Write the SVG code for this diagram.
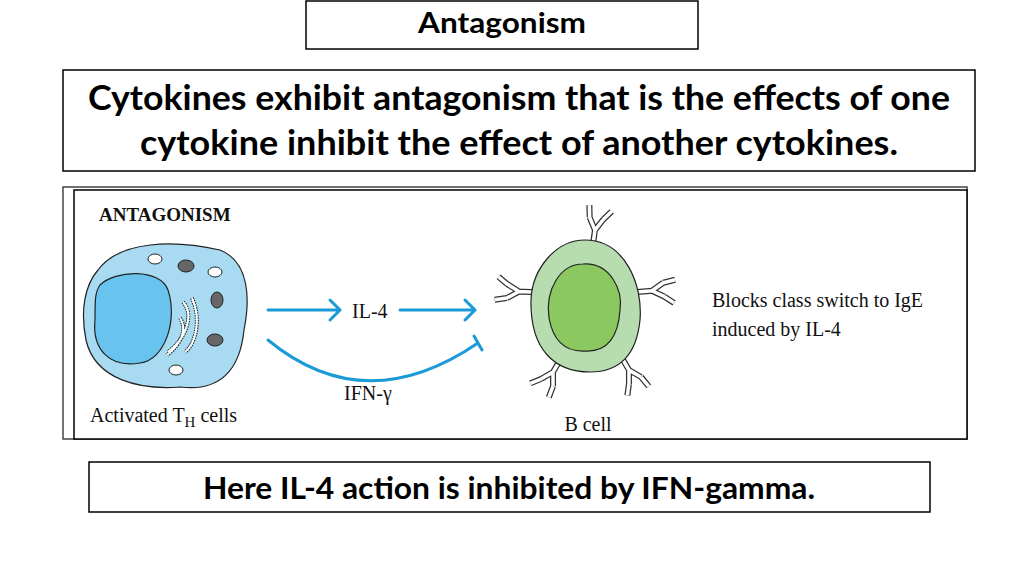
<svg xmlns="http://www.w3.org/2000/svg" width="1024" height="576" viewBox="0 0 1024 576">
<style>
.box{fill:#fff;stroke:#000;stroke-width:1.5}
.h{font-family:Lato,"Liberation Sans",sans-serif;font-weight:bold;fill:#000}
.s{font-family:"Liberation Serif",serif;fill:#111}
.blue{fill:none;stroke:#1a9ad6;stroke-width:3;stroke-linecap:round}
.ab1{fill:none;stroke:#333;stroke-width:6}
.ab2{fill:none;stroke:#fff;stroke-width:3.5}
</style>
<defs>
<g id="ab">
<path class="ab1" d="M0,4 L0,-14 L-7,-26 M0,-14 L7,-26 M-7,-26 l-2,-12 M7,-26 l7,-9"/>
<path class="ab2" d="M0,4 L0,-14 L-7,-26 M0,-14 L7,-26 M-7,-26 l-2,-12 M7,-26 l7,-9"/>
</g>
</defs>
<g id="title"><rect class="box" x="306" y="1" width="392" height="48"/><text class="h" x="418" y="33" font-size="28" textLength="168" lengthAdjust="spacingAndGlyphs">Antagonism</text></g>
<g id="def"><rect class="box" x="63" y="70" width="912" height="101"/>
<text class="h" x="88" y="110" font-size="34" textLength="862" lengthAdjust="spacingAndGlyphs">Cytokines exhibit antagonism that is the effects of one</text>
<text class="h" x="140" y="155" font-size="34" textLength="758" lengthAdjust="spacingAndGlyphs">cytokine inhibit the effect of another cytokines.</text></g>
<g id="figure"><rect x="63" y="187" width="904" height="252" fill="#fff" stroke="#444" stroke-width="1.5"/>
<rect x="74" y="190" width="893" height="249" fill="#fff" stroke="#000" stroke-width="1.5"/>
<text class="s" x="99" y="221" font-size="19" font-weight="bold">ANTAGONISM</text></g>
<g id="tcell">
<path d="M98,270 C120,240 175,240 220,250 C250,262 250,300 244,330 C240,370 220,392 180,387 C140,390 95,380 86,340 C80,310 85,285 98,270Z" fill="#a8dbf2" stroke="#222" stroke-width="1.2"/>
<path d="M100,285 C115,270 160,268 168,290 C178,320 165,360 140,363 C110,368 92,350 95,320 C95,300 95,292 100,285Z" fill="#68c4ee" stroke="#222" stroke-width="1.2"/>
<ellipse cx="155" cy="259" rx="7" ry="5" fill="#fff" stroke="#222"/>
<ellipse cx="215" cy="272" rx="7" ry="5" fill="#fff" stroke="#222"/>
<ellipse cx="176" cy="370" rx="7" ry="5" fill="#fff" stroke="#222"/>
<ellipse cx="186" cy="266" rx="8" ry="6" fill="#666" stroke="#222"/>
<ellipse cx="217" cy="300" rx="6" ry="8" fill="#666" stroke="#222"/>
<ellipse cx="215" cy="340" rx="8" ry="6" fill="#666" stroke="#222"/>
<path d="M183,302 C195,315 185,340 168,352 M192,298 C202,320 195,345 185,352 M180,318 C188,330 180,345 167,355" fill="none" stroke="#222" stroke-width="4" stroke-dasharray="1.5 1"/>
<path d="M183,302 C195,315 185,340 168,352 M192,298 C202,320 195,345 185,352 M180,318 C188,330 180,345 167,355" fill="none" stroke="#fff" stroke-width="2"/>
<text class="s" x="90" y="422" font-size="20">Activated T<tspan font-size="15" dy="5">H</tspan><tspan dy="-5"> cells</tspan></text>
</g>
<g id="connectors">
<path class="blue" d="M268,310 H340 M330,300 L340,310 L330,320"/>
<path class="blue" d="M400,310 H475 M465,300 L475,310 L465,320"/>
<path class="blue" d="M268,340 Q365,420 478,343 M474,336 L482,350"/>
<text class="s" x="352" y="318" font-size="20">IL-4</text>
<text class="s" x="344" y="400" font-size="20">IFN-γ</text>
</g>
<g id="bcell">
<use href="#ab" transform="translate(593,244) rotate(8)"/>
<use href="#ab" transform="translate(533,292) rotate(-88)"/>
<use href="#ab" transform="translate(638,292) rotate(85)"/>
<use href="#ab" transform="translate(560,360) rotate(-150)"/>
<use href="#ab" transform="translate(622,358) rotate(150)"/>
<path d="M585,240 C625,240 643,285 640,320 C636,360 615,372 590,372 C555,372 530,350 531,300 C532,270 555,240 585,240Z" fill="#b7dcb0" stroke="#222" stroke-width="1.2"/>
<path d="M583,264 C610,262 623,290 620,310 C618,340 605,352 585,351 C565,352 553,340 549,318 C545,290 560,264 583,264Z" fill="#8bc860" stroke="#222" stroke-width="1.2"/>
<text class="s" x="588" y="431" font-size="20" text-anchor="middle">B cell</text>
</g>
<g id="note"><text class="s" x="712" y="307" font-size="20">Blocks class switch to IgE</text><text class="s" x="712" y="336" font-size="20">induced by IL-4</text></g>
<g id="footer"><rect class="box" x="89" y="462" width="841" height="50"/><text class="h" x="203" y="499" font-size="30" textLength="612" lengthAdjust="spacingAndGlyphs">Here IL-4 action is inhibited by  IFN-gamma.</text></g>
</svg>
